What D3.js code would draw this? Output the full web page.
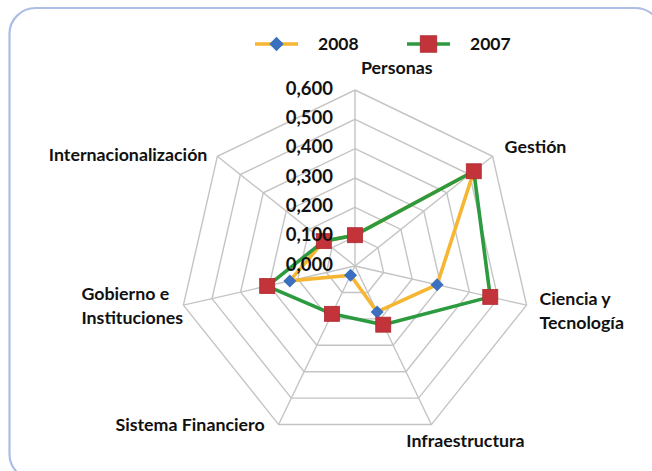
<!DOCTYPE html>
<html>
<head>
<meta charset="utf-8">
<script src="https://cdn.jsdelivr.net/npm/d3@7"></script>
<style>
  body { margin: 0; background: #fff; }
  text { font-family: Lato, "DejaVu Sans", sans-serif; font-weight: 700; fill: #111; }
</style>
</head>
<body>
<svg id="chart" width="652" height="471"></svg>
<script>
"use strict"

// categories, clockwise from the top
const categories = ["Personas", "Gestión", "Ciencia y\nTecnología", "Infraestructura",
    "Sistema Financiero", "Gobierno e\nInstituciones", "Internacionalización"]
const values2008 = [0.105, 0.518, 0.287, 0.174, 0.035, 0.228, 0.136]
const values2007 = [0.105, 0.518, 0.473, 0.222, 0.181, 0.307, 0.136]
const tickValues = [0, 0.1, 0.2, 0.3, 0.4, 0.5, 0.6]
const seriesNames = ["2008", "2007"]

// label placement relative to the outer vertex (layout only)
const labelLayout = [
    {dx: 6, dy: -16, anchor: "start"},
    {dx: 12, dy: -3, anchor: "start"},
    {dx: 13, dy: 0, anchor: "start"},
    {dx: -25, dy: 22, anchor: "start"},
    {dx: -14, dy: 6, anchor: "end"},
    {dx: -102, dy: -5, anchor: "start"},
    {dx: -10, dy: 5, anchor: "end"}
]

const svg = d3.select("#chart")

// rounded frame
svg.append("rect")
    .attr("x", 9.5).attr("y", 8)
    .attr("width", 652).attr("height", 472)
    .attr("rx", 26)
    .attr("fill", "none")
    .attr("stroke", "#adbde6")
    .attr("stroke-width", 2.2)

const cx = 355, cy = 266
const radius = d3.scaleLinear().domain([0, 0.6]).range([0, 176])
const angle = i => i * 2 * Math.PI / categories.length

function point(i, v){
    const a = angle(i), r = radius(v)
    return [cx + r * Math.sin(a), cy - r * Math.cos(a)]
}

const grid = svg.append("g")

// rings
tickValues.slice(1).forEach(t => {
    grid.append("path")
        .attr("d", d3.line()(categories.map((c, i) => point(i, t))) + "Z")
        .attr("fill", "none")
        .attr("stroke", "#c4c4c4")
        .attr("stroke-width", 1.4)
})
// spokes
categories.forEach((c, i) => {
    const p = point(i, 0.6)
    grid.append("line")
        .attr("x1", cx).attr("y1", cy)
        .attr("x2", p[0]).attr("y2", p[1])
        .attr("stroke", "#c4c4c4")
        .attr("stroke-width", 1.4)
})

// series
const series = [
    {name: seriesNames[0], values: values2008, line: "#f6b631", marker: "diamond", fill: "#3b6fc0"},
    {name: seriesNames[1], values: values2007, line: "#2c9a3f", marker: "square", fill: "#c2333a"}
]

function drawMarker(g, kind, x, y, fill, size){
    if(kind === "diamond"){
        const s = 6.5 * size
        g.append("path")
            .attr("d", `M${x},${y - s}L${x + s},${y}L${x},${y + s}L${x - s},${y}Z`)
            .attr("fill", fill)
    } else {
        const s = 7.5 * size
        g.append("rect")
            .attr("x", x - s).attr("y", y - s)
            .attr("width", 2 * s).attr("height", 2 * s)
            .attr("fill", fill)
            .attr("stroke", "#b02a30")
            .attr("stroke-width", 0.8)
    }
}

series.forEach(s => {
    const g = svg.append("g")
    const pts = s.values.map((v, i) => point(i, v))
    g.append("path")
        .attr("d", d3.line()(pts) + "Z")
        .attr("fill", "none")
        .attr("stroke", s.line)
        .attr("stroke-width", 3.6)
        .attr("stroke-linejoin", "round")
    pts.forEach(p => drawMarker(g, s.marker, p[0], p[1], s.fill, 1))
})

// tick labels, Spanish decimal comma
const fmt = d3.formatLocale({decimal: ",", thousands: ".", grouping: [3], currency: ["", "€"]}).format(".3f")
svg.append("g").selectAll("text")
    .data(tickValues)
    .join("text")
    .attr("x", 333)
    .attr("y", d => cy - radius(d) - 2)
    .attr("dy", "0.36em")
    .attr("text-anchor", "end")
    .style("font-size", "18.5px")
    .text(d => fmt(d))

// category labels
categories.forEach((c, i) => {
    const p = point(i, 0.6)
    const lay = labelLayout[i]
    const t = svg.append("text")
        .attr("x", p[0] + lay.dx)
        .attr("y", p[1] + lay.dy)
        .attr("text-anchor", lay.anchor)
        .style("font-size", "17.8px")
    c.split("\n").forEach((line, k) => {
        t.append("tspan")
            .attr("x", p[0] + lay.dx)
            .attr("dy", k === 0 ? 0 : 24)
            .text(line)
    })
})

// legend
const legend = svg.append("g")
const legendX = [255, 407]
series.forEach((s, k) => {
    const x0 = legendX[k], y0 = 44
    legend.append("line")
        .attr("x1", x0).attr("x2", x0 + 43)
        .attr("y1", y0).attr("y2", y0)
        .attr("stroke", s.line)
        .attr("stroke-width", 3.6)
    drawMarker(legend, s.marker, x0 + 21.5, y0, s.fill, 1.1)
    legend.append("text")
        .attr("x", x0 + 63)
        .attr("y", y0)
        .attr("dy", "0.36em")
        .style("font-size", "17.5px")
        .text(s.name)
})
</script>
</body>
</html>
